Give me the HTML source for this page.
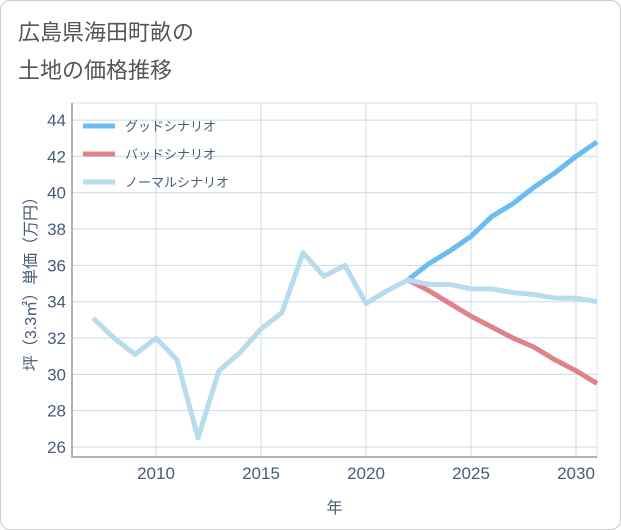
<!DOCTYPE html>
<html><head><meta charset="utf-8"><style>
body{margin:0;background:#fff;font-family:"Liberation Sans","Noto Sans CJK JP",sans-serif;}
#card{position:absolute;left:0;top:0;width:619px;height:528px;border:1px solid #ccc;border-radius:10px;background:#fff;}
</style></head><body>
<div id="card"></div>
<svg id="c" width="621" height="530" style="position:absolute;left:0;top:0">
<text x="18" y="40" font-size="22" fill="#555" font-family="Liberation Sans, Noto Sans CJK JP, sans-serif">広島県海田町畝の</text>
<text x="18" y="78" font-size="22" fill="#555" font-family="Liberation Sans, Noto Sans CJK JP, sans-serif">土地の価格推移</text>
</svg>
<script>
const years=[2007,2008,2009,2010,2011,2012,2013,2014,2015,2016,2017,2018,2019,2020,2021,2022,2023,2024,2025,2026,2027,2028,2029,2030,2031];
const normal=[33.1,32.0,31.1,32.0,30.8,26.5,30.2,31.2,32.5,33.4,36.7,35.4,36.0,33.9,34.6,35.2,34.95,34.95,34.7,34.7,34.5,34.4,34.2,34.2,34.0];
const fYears=[2022,2023,2024,2025,2026,2027,2028,2029,2030,2031];
const good=[35.2,36.1,36.8,37.6,38.7,39.4,40.3,41.1,42.0,42.8];
const bad=[35.2,34.6,33.9,33.2,32.6,32.0,31.5,30.8,30.2,29.5];
const yTicks=[26,28,30,32,34,36,38,40,42,44];
const xTicks=[2010,2015,2020,2025,2030];
const L=72,R=597,T=103,B=457,x0=2006,x1=2031,y0=25.45,y1=44.94;
const X=v=>L+(v-x0)/(x1-x0)*(R-L), Y=v=>B-(v-y0)/(y1-y0)*(B-T);
const svg=document.getElementById('c'),NS='http://www.w3.org/2000/svg';
function mk(t,a,p){const e=document.createElementNS(NS,t);for(const k in a)e.setAttribute(k,a[k]);(p||svg).appendChild(e);return e;}
let r=mk('rect',{x:L,y:T,width:R-L,height:B-T,fill:'#fff',stroke:'#d6e4ee'});


xTicks.forEach(yr=>{let g=mk('line',{x1:X(yr),x2:X(yr),y1:T,y2:B,stroke:'#c8dcea'});

});
yTicks.forEach(v=>{let g=mk('line',{x1:L,x2:R,y1:Y(v),y2:Y(v),stroke:'#c8dcea'});


let t=mk('text',{x:L-6,y:Y(v)+6,'text-anchor':'end','font-size':17,fill:'#4a5a78'});t.textContent=v;

});
let ax=mk('polyline',{points:`${L},${T} ${L},${B} ${R},${B}`,fill:'none',stroke:'#999','stroke-width':1.5});


xTicks.forEach(v=>{let t=mk('text',{x:X(v),y:B+22,'text-anchor':'middle','font-size':17,fill:'#4a5a78'});t.textContent=v;

});
let xt=mk('text',{x:(L+R)/2,y:513,'text-anchor':'middle','font-size':16,fill:'#4a5a78'});xt.textContent='年';


let yt=mk('text',{x:0,y:0,'text-anchor':'middle','font-size':16,fill:'#4a5a78',transform:`translate(36,${(T+B)/2}) rotate(-90)`});yt.textContent='坪（3.3㎡）単価（万円）';


function line(xs,ys,col,name){let p=mk('polyline',{points:xs.map((v,i)=>X(v)+','+Y(ys[i])).join(' '),fill:'none',stroke:col,'stroke-width':5,'stroke-linejoin':'round'});

}
line(fYears,bad,'#e0828a','bad-scenario-line');
line(fYears,good,'#6bbcf0','good-scenario-line');
line(years,normal,'#b7dcec','normal-scenario-line');
[['グッドシナリオ','#6bbcf0'],['バッドシナリオ','#e0828a'],['ノーマルシナリオ','#b7dcec']].forEach((d,i)=>{
let y=126+i*28;
let l=mk('line',{x1:83,x2:115,y1:y,y2:y,stroke:d[1],'stroke-width':5});


let t=mk('text',{x:125,y:y+5,'font-size':13,fill:'#4a5a78'});t.textContent=d[0];

});
</script>
</body></html>
